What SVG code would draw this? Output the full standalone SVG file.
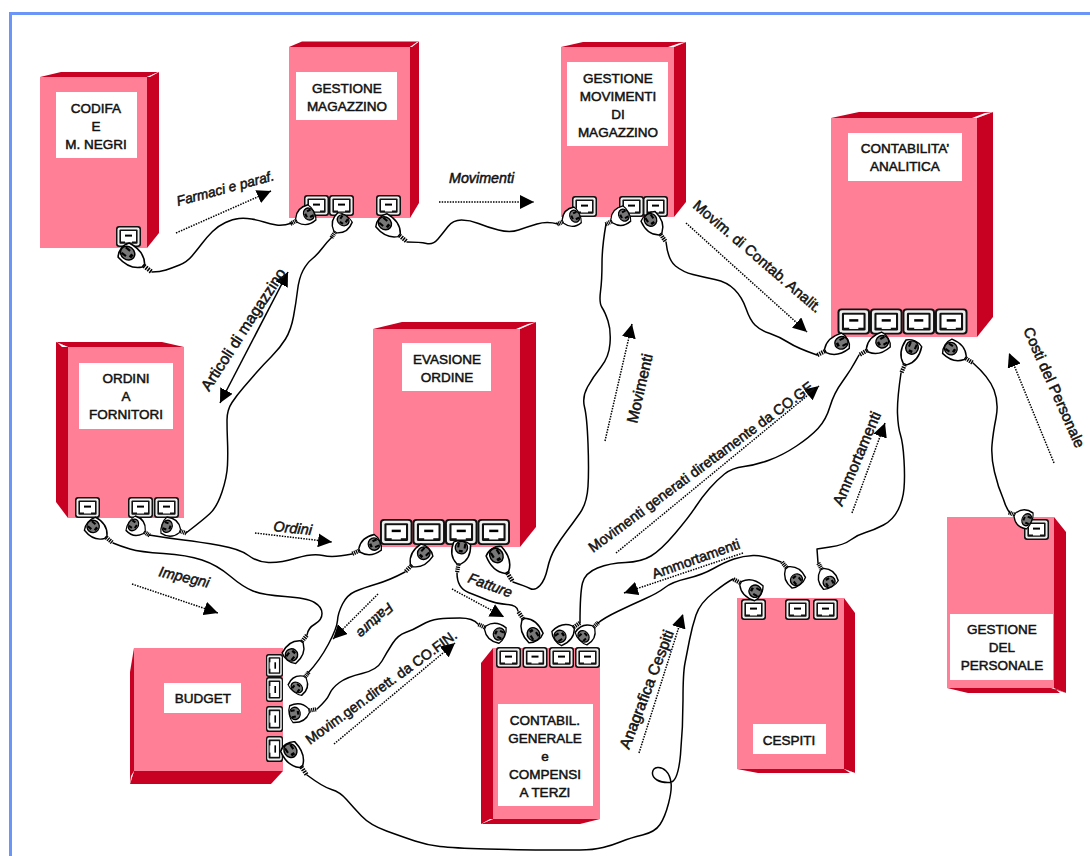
<svg xmlns="http://www.w3.org/2000/svg" xmlns:xlink="http://www.w3.org/1999/xlink" width="1090" height="856" viewBox="0 0 1090 856">
<style>
.f{fill:#ff8096}.d{fill:#c80021}.w{fill:#fff}
text{font-family:"Liberation Sans",Arial,sans-serif;fill:#111;stroke:#111;stroke-width:.5}
.n{font-size:13.500px;text-anchor:middle}
.i{font-style:italic}
.wire{fill:none;stroke:#000;stroke-width:1.5;stroke-linejoin:round;stroke-linecap:round}
.dot{fill:none;stroke:#000;stroke-width:1.5;stroke-dasharray:1.5 1.2;marker-end:url(#ah)}
</style>
<defs>
<marker id="ah" markerUnits="userSpaceOnUse" markerWidth="16" markerHeight="14" refX="14" refY="7" orient="auto"><path d="M0 0L14 7L0 14Z" fill="#000"/></marker>
<marker id="ahs" markerUnits="userSpaceOnUse" markerWidth="16" markerHeight="14" refX="14" refY="7" orient="auto-start-reverse"><path d="M0 0L14 7L0 14Z" fill="#000"/></marker>
<g id="sock">
<rect width="25" height="21" rx="3" fill="#111"/>
<rect x="1.500" y="1.500" width="22" height="18" rx="2" fill="#eee"/>
<rect x="3.400" y="3.400" width="18.200" height="14.400" rx="1" fill="#111"/>
<rect x="5" y="5" width="15" height="10.500" fill="#fff"/>
<rect x="9" y="8.600" width="7" height="2" fill="#000"/>
<rect x="9" y="15" width="7" height="1.500" fill="#fff"/>
</g>
<g id="plug">
<line x1="0" y1="15" x2="0" y2="28" stroke="#000" stroke-width="4.500" stroke-dasharray="1.600 1"/>
<path d="M-9-8C-11 3-8 12-2 17L2 17C8 12 11 3 9-8C4-12-4-12-9-8Z" fill="#fff" stroke="#000" stroke-width="1.600"/>
<ellipse cx="0" cy="-3" rx="6.500" ry="7.500" fill="#777" stroke="#000" stroke-width="1.500"/>
<rect x="-4.500" y="-8" width="2.200" height="5.500" fill="#000"/><rect x="2.300" y="-8" width="2.200" height="5.500" fill="#000"/>
<path d="M-2 3H2V0H-2Z" fill="#000"/>
</g>
</defs>
<rect width="1090" height="856" fill="#fff"/>
<path d="M10.500 856V13.500H1090" fill="none" stroke="#6b96f7" stroke-width="3"/>

<g id="node-codifa">
<rect class="f" x="40" y="77" width="107" height="171"/>
<polygon class="d" points="40,77 61,72 159,72 147,77"/>
<polygon class="d" points="147,77 159,72 159,233 147,248"/>
<polygon class="w" points="147,77 157,72.500 159,72 150,77"/>
<rect class="w" x="56" y="92" width="81" height="66"/>
<text class="n" x="96" y="113">CODIFA</text><text class="n" x="96" y="131">E</text><text class="n" x="96" y="149">M. NEGRI</text>
<use href="#sock" x="116" y="226"/>
</g>
<g id="node-magazzino">
<rect class="f" x="289" y="47" width="121" height="171"/>
<polygon class="d" points="289,47 302,41.500 419,41.500 410,47"/>
<polygon class="d" points="410,47 419,41.500 419,203 410,218"/>
<polygon class="w" points="410,47 417,42 419,41.500 412,47"/>
<rect class="w" x="296" y="72" width="101" height="48"/>
<text class="n" x="347" y="93">GESTIONE</text><text class="n" x="347" y="111">MAGAZZINO</text>
<use href="#sock" x="304" y="195"/><use href="#sock" x="329" y="195"/><use href="#sock" x="376" y="195"/>
</g>
<g id="node-movimenti">
<rect class="f" x="561" y="47" width="113" height="170"/>
<polygon class="d" points="561,47 583,42 686,42 674,47"/>
<polygon class="d" points="674,47 686,42 686,202 674,217"/>
<polygon class="w" points="668,47 680,43 686,42 674,47"/>
<rect class="w" x="567" y="62" width="101" height="84"/>
<text class="n" x="618" y="83">GESTIONE</text><text class="n" x="618" y="101">MOVIMENTI</text><text class="n" x="618" y="119">DI</text><text class="n" x="618" y="137">MAGAZZINO</text>
<use href="#sock" x="572" y="196"/><use href="#sock" x="619" y="196"/><use href="#sock" x="643" y="196"/>
</g>
<g id="node-analitica">
<rect class="f" x="831" y="118" width="146" height="219"/>
<polygon class="d" points="831,118 859,112 993,112 977,118"/>
<polygon class="d" points="977,118 993,112 993,317 977,337"/>
<polygon class="w" points="972,118 985,113 993,112 977,118"/>
<rect class="w" x="848" y="133" width="114" height="48"/>
<text class="n" x="905" y="153">CONTABILITA’</text><text class="n" x="905" y="171">ANALITICA</text>
<use href="#sock" transform="translate(837.500 308.500) scale(1.300 1.240)"/><use href="#sock" transform="translate(870 308.500) scale(1.300 1.240)"/><use href="#sock" transform="translate(902.500 308.500) scale(1.300 1.240)"/><use href="#sock" transform="translate(935 308.500) scale(1.300 1.240)"/>
</g>
<g id="node-ordini">
<rect class="f" x="68" y="347" width="116" height="171"/>
<polygon class="d" points="56,342 162,342 184,347 68,347"/>
<polygon class="d" points="56,342 68,347 68,518 56,502"/>
<polygon class="w" points="56,342 68,347 62,347 58,343"/>
<rect class="w" x="79" y="363" width="94" height="66"/>
<text class="n" x="126" y="383">ORDINI</text><text class="n" x="126" y="401">A</text><text class="n" x="126" y="419">FORNITORI</text>
<use href="#sock" x="75" y="497"/><use href="#sock" x="128" y="497"/><use href="#sock" x="154" y="497"/>
</g>
<g id="node-evasione">
<rect class="f" x="373" y="329" width="147" height="218"/>
<polygon class="d" points="373,329 402,322 536,322 520,329"/>
<polygon class="d" points="520,329 536,322 536,527 520,547"/>
<polygon class="w" points="516,329 528,324 536,322 520,329"/>
<rect class="w" x="402" y="343" width="89" height="48"/>
<text class="n" x="447" y="364">EVASIONE</text><text class="n" x="447" y="382">ORDINE</text>
<use href="#sock" transform="translate(380 519) scale(1.300 1.240)"/><use href="#sock" transform="translate(412.500 519) scale(1.300 1.240)"/><use href="#sock" transform="translate(445 519) scale(1.300 1.240)"/><use href="#sock" transform="translate(477.500 519) scale(1.300 1.240)"/>
</g>
<g id="node-budget">
<rect class="f" x="134" y="648" width="149" height="123"/>
<polygon class="d" points="134,648 130,672 130,784 134,771"/>
<polygon class="d" points="134,771 283,771 271,784 130,784"/>
<polygon class="w" points="134,771 130,784 131,776"/>
<rect class="w" x="164" y="683" width="77" height="30"/>
<text class="n" x="203" y="703">BUDGET</text>
<use href="#sock" transform="translate(283 654) rotate(90) scale(.92 .81)"/><use href="#sock" transform="translate(283 677) rotate(90) scale(1 .81)"/><use href="#sock" transform="translate(283 706) rotate(90) scale(1.040 .81)"/><use href="#sock" transform="translate(283 736) rotate(90) scale(1.040 .81)"/>
</g>
<g id="node-generale">
<rect class="f" x="493" y="648" width="107" height="171"/>
<polygon class="d" points="493,648 481,663 481,824 493,819"/>
<polygon class="d" points="481,824 493,819 600,819 580,824"/>
<polygon class="w" points="481,824 493,819 490,819"/>
<rect class="w" x="498" y="704" width="95" height="102"/>
<text class="n" x="545" y="725">CONTABIL.</text><text class="n" x="545" y="743">GENERALE</text><text class="n" x="545" y="761">e</text><text class="n" x="545" y="779">COMPENSI</text><text class="n" x="545" y="797">A TERZI</text>
<use href="#sock" x="496" y="647"/><use href="#sock" x="522.500" y="647"/><use href="#sock" x="549" y="647"/><use href="#sock" x="575" y="647"/>
</g>
<g id="node-cespiti">
<rect class="f" x="737" y="598" width="107" height="171"/>
<polygon class="d" points="844,598 855,613 855,773 844,769"/>
<polygon class="d" points="737,769 758,773 855,773 844,769"/>
<polygon class="w" points="844,769 855,773 850,773"/>
<rect class="w" x="753" y="724" width="73" height="30"/>
<text class="n" x="789" y="745">CESPITI</text>
<use href="#sock" x="741" y="599"/><use href="#sock" x="785" y="599"/><use href="#sock" x="813" y="599"/>
</g>
<g id="node-personale">
<rect class="f" x="947" y="517" width="107" height="171"/>
<polygon class="d" points="1054,517 1066,532 1066,693 1054,688"/>
<polygon class="d" points="947,688 968,693 1066,693 1054,688"/>
<polygon class="w" points="1051,688 1066,693 1060,693 1054,688"/>
<rect class="w" x="950" y="614" width="103" height="66"/>
<text class="n" x="1002" y="634">GESTIONE</text><text class="n" x="1002" y="652">DEL</text><text class="n" x="1002" y="670">PERSONALE</text>
<use href="#sock" x="1024" y="519"/>
</g>

<g id="connectors">
<g id="wires">
<path class="wire" d="M152 272Q160 272 166 270Q172 268 179.500 265Q187 262 192 256Q197 250 202 243.500Q207 237 212.500 231.500Q218 226 225.500 222.500Q233 219 239 218.500Q245 218 251.500 219Q258 220 264 222Q270 224 276.500 225Q283 226 292 223"/>
<path class="wire" d="M332 237Q327 242 322 248.500Q317 255 312 259Q307 263 303 270.500Q299 278 297.500 290.500Q296 303 293.500 316.500Q291 330 285.500 339Q280 348 271.500 356.500Q263 365 256.500 372.500Q250 380 243.500 387.500Q237 395 232 402.500Q227 410 227 420Q227 430 227.500 441.500Q228 453 227.500 465Q227 477 222 492Q217 507 210 513.500Q203 520 186 533"/>
<path class="wire" d="M407 242Q420 242 426.500 243.500Q433 245 438 239Q443 233 448 226.500Q453 220 461.500 220Q470 220 478.500 223.500Q487 227 498.500 230Q510 233 518.500 230Q527 227 537 224Q547 221 558 224"/>
<path class="wire" d="M606 224Q602 247 602 263.500Q602 280 600.500 291.500Q599 303 602 307.500Q605 312 608 321Q611 330 610 343.500Q609 357 601 367Q593 377 587.500 387Q582 397 584.500 407Q587 417 588 443.500Q589 470 588 486.500Q587 503 580 513Q573 523 566.500 531.500Q560 540 555 548.500Q550 557 547.500 568.500Q545 580 540 585.500Q535 591 530 588.500Q525 586 513 582"/>
<path class="wire" d="M666 242Q668 260 675.500 266Q683 272 693 274.500Q703 277 715 279.500Q727 282 734.500 289.500Q742 297 746 308.500Q750 320 755 325Q760 330 770 333.500Q780 337 788.500 342.500Q797 348 817 355"/>
<path class="wire" d="M859 355Q851 370 842.500 381.500Q834 393 830 406.500Q826 420 818 428.500Q810 437 796.500 446Q783 455 769.500 460Q756 465 744 466.500Q732 468 724.500 474Q717 480 709.500 488.500Q702 497 695.500 507Q689 517 675 533.500Q661 550 651 556Q641 562 625.500 562.500Q610 563 597.500 568Q585 573 582.500 583Q580 593 580 623"/>
<path class="wire" d="M901 373Q897 400 897.500 413.500Q898 427 900.500 435Q903 443 904 460Q905 477 904 488.500Q903 500 898 510Q893 520 883.500 525Q874 530 865.500 532.500Q857 535 850.500 540Q844 545 830 547L817 549L818 563"/>
<path class="wire" d="M973 363Q989 377 994 390Q999 403 996 418Q993 433 992 445Q991 457 994.500 472Q998 487 1003.500 499.500Q1006 508 1010 513"/>
<path class="wire" d="M781 562Q763 555 753 555.500Q743 556 734 559Q725 562 713.500 568.500Q702 575 687 578.500Q672 582 665 587.500Q658 593 644.500 599Q631 605 617.500 611.500Q604 618 598 623"/>
<path class="wire" d="M733 579Q727 582 713.500 592.500Q700 603 696 615Q692 627 689.500 640Q687 653 685 663Q683 673 683 700Q683 727 680.500 754.500Q678 782 670 782.500Q662 783 657 780Q652 777 652.500 772.500Q653 768 657.500 767.500Q662 767 666 771Q670 775 671 782.500Q672 790 668.500 803.500Q665 817 660 824.500Q655 832 642.500 835Q630 838 621.500 841.500Q613 845 603 847.500Q593 850 580 850Q567 850 543.500 850Q520 850 486.500 849Q453 848 440 846.500Q427 845 415 841Q403 837 386.500 831Q370 825 361.500 816Q353 807 346.500 799.500Q340 792 331.500 789.500Q323 787 307 775"/>
<path class="wire" d="M149 535Q167 538 183.500 540Q200 542 220 545.500Q240 549 248.500 555.500Q257 562 268.500 562.500Q280 563 296.500 558Q313 553 323 555.500Q333 558 352 554"/>
<path class="wire" d="M113 543Q120 546 130 549Q140 552 163.500 553.500Q187 555 202 560Q217 565 230 576Q243 587 253 591Q263 595 285 596.500Q307 598 314.500 602.500Q322 607 322 613.500Q322 620 315 624Q308 628 307 635"/>
<path class="wire" d="M405 572Q390 580 376.500 584Q363 588 355 591.500Q347 595 342.500 604Q338 613 337.500 620.500Q337 628 328.500 644Q320 660 308 673"/>
<path class="wire" d="M457 573Q457 588 468.500 592.500Q480 597 488.500 600.500Q497 604 507 604.500Q517 605 518 611"/>
<path class="wire" d="M317 709Q327 700 329.500 694Q332 688 339.500 682.500Q347 677 362 673.500Q377 670 382 661Q387 652 392.500 643.500Q398 635 405.500 632.500Q413 630 421.500 625Q430 620 438.500 619Q447 618 460 618Q473 618 478 624"/>
</g>
<g id="plugs">
<use href="#plug" transform="translate(130 255) rotate(-52)"/>
<use href="#plug" transform="translate(307 215) rotate(62) scale(.95 .7)"/>
<use href="#plug" transform="translate(342 222) rotate(34) scale(.95 .7)"/>
<use href="#plug" transform="translate(387 225) rotate(-50) scale(.95 .93)"/>
<use href="#plug" transform="translate(573 217) rotate(65) scale(.95 .65)"/>
<use href="#plug" transform="translate(622 216) rotate(63) scale(.95 .68)"/>
<use href="#plug" transform="translate(652 222) rotate(-35) scale(.95 .86)"/>
<use href="#plug" transform="translate(839 344) rotate(63) scale(.95 .9)"/>
<use href="#plug" transform="translate(880 343) rotate(60) scale(.95 .86)"/>
<use href="#plug" transform="translate(911 350) rotate(23) scale(.95 .9)"/>
<use href="#plug" transform="translate(953 350) rotate(-57) scale(.95 .86)"/>
<use href="#plug" transform="translate(1025 519) rotate(112) scale(.95 .65)"/>
<use href="#plug" transform="translate(95 528) rotate(-50) scale(.95 .83)"/>
<use href="#plug" transform="translate(135 526) rotate(-57) scale(.95 .65)"/>
<use href="#plug" transform="translate(169 527) rotate(-70) scale(.95 .68)"/>
<use href="#plug" transform="translate(372 545) rotate(66) scale(.95 .8)"/>
<use href="#plug" transform="translate(422 555) rotate(45) scale(.95 .86)"/>
<use href="#plug" transform="translate(461 550) rotate(10) scale(.95 .83)"/>
<use href="#plug" transform="translate(498 558) rotate(-32)"/>
<use href="#plug" transform="translate(293 653) rotate(218) scale(.95 .83)"/>
<use href="#plug" transform="translate(298 686) rotate(218) scale(.95 .65)"/>
<use href="#plug" transform="translate(297 713) rotate(259) scale(.95 .72)"/>
<use href="#plug" transform="translate(292 753) rotate(-34) scale(.95 .96)"/>
<use href="#plug" transform="translate(497 633) rotate(115) scale(.95 .76)"/>
<use href="#plug" transform="translate(532 632) rotate(146) scale(.95 .9)"/>
<use href="#plug" transform="translate(562 635) rotate(-124) scale(.95 .8)"/>
<use href="#plug" transform="translate(585 635) rotate(-133) scale(.95 .68)"/>
<use href="#plug" transform="translate(753 590) rotate(119) scale(.95 .83)"/>
<use href="#plug" transform="translate(795 578) rotate(141) scale(.95 .76)"/>
<use href="#plug" transform="translate(828 580) rotate(150) scale(.95 .72)"/>
</g>
<g id="arrows">
<line class="dot" x1="176" y1="233" x2="271" y2="191"/>
<line class="dot" x1="439" y1="202" x2="534" y2="202"/>
<line x1="220" y1="403" x2="288" y2="272" stroke="#000" stroke-width="1.500" marker-start="url(#ahs)" marker-end="url(#ahs)"/>
<line class="dot" x1="255" y1="533" x2="332" y2="542"/>
<line class="dot" x1="132" y1="584" x2="218" y2="613"/>
<line class="dot" x1="378" y1="594" x2="333" y2="639"/>
<line class="dot" x1="334" y1="744" x2="455" y2="643"/>
<line class="dot" x1="452" y1="589" x2="504" y2="617"/>
<line class="dot" x1="639" y1="753" x2="683" y2="614"/>
<line class="dot" x1="743" y1="553" x2="624" y2="593"/>
<line class="dot" x1="616" y1="553" x2="819" y2="386"/>
<line class="dot" x1="852" y1="513" x2="885" y2="423"/>
<line class="dot" x1="1054" y1="463" x2="1009" y2="353"/>
<line class="dot" x1="605" y1="441" x2="632" y2="324"/>
<line class="dot" x1="686" y1="223" x2="807" y2="332"/>
</g>
<g id="labels">
<text class="i" font-size="13.800" transform="translate(178 206) rotate(-15)">Farmaci e paraf.</text>
<text class="i" font-size="14.300" x="449" y="183">Movimenti</text>
<text font-size="15.500" transform="translate(209 392) rotate(-57)">Articoli di magazzino</text>
<text class="i" font-size="14.500" transform="translate(273 531) rotate(6)">Ordini</text>
<text class="i" font-size="14.500" transform="translate(158 576) rotate(13)">Impegni</text>
<text class="i" font-size="14" transform="translate(388 602) rotate(137)">Fatture</text>
<text font-size="14.100" transform="translate(310 745) rotate(-36)">Movim.gen.dirett. da CO.FIN.</text>
<text class="i" font-size="14.500" transform="translate(467 582) rotate(20)">Fatture</text>
<text font-size="15.500" transform="translate(637 424) rotate(-77)">Movimenti</text>
<text font-size="14.400" transform="translate(593 553) rotate(-36.500)">Movimenti generati direttamente da CO.GE</text>
<text font-size="15.500" transform="translate(842 507) rotate(-67)">Ammortamenti</text>
<text font-size="14.200" transform="translate(654 579) rotate(-19.600)">Ammortamenti</text>
<text font-size="15" transform="translate(1023 330) rotate(66)">Costi del Personale</text>
<text font-size="15.500" transform="translate(629 750) rotate(-69)">Anagrafica Cespiti</text>
<text font-size="14.800" transform="translate(692 207) rotate(40.600)">Movim. di Contab. Analit.</text>
</g>
</g>
</svg>
